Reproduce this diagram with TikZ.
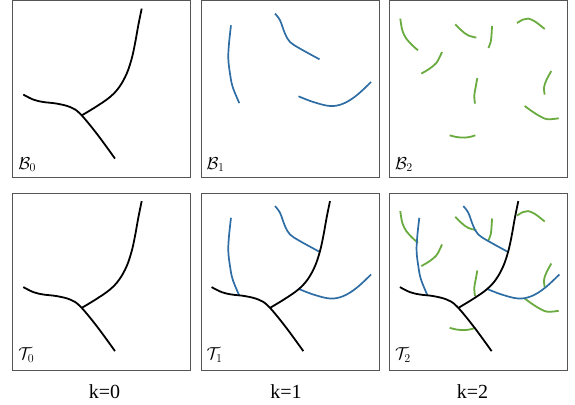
\documentclass[tikz,border=0pt]{standalone}
\usepackage{fontspec}
\setmainfont{Liberation Serif}
\definecolor{treeblue}{HTML}{2E6DA4}
\definecolor{treegreen}{HTML}{6AAB3F}
\definecolor{framegray}{HTML}{555555}
\tikzset{
  panelbox/.style={draw=framegray, line width=0.9pt},
  blk/.style={draw=black, line width=1.8pt},
  blu/.style={draw=treeblue, line width=1.7pt},
  grn/.style={draw=treegreen, line width=1.8pt},
  plabel/.style={anchor=base west, inner sep=0pt, font=\fontsize{18}{20}\selectfont},
  klabel/.style={anchor=base, inner sep=0pt, font=\fontsize{20}{22}\selectfont}
}
\newcommand{\blacktree}{%
  \draw[blk] plot[smooth, tension=0.6] coordinates {(10.6,93.8) (20.6,98.8) (30.6,101.2) (44,102.8) (57.3,106.2) (67.3,112.8) (84,132.8) (102.3,157.8)};
  \draw[blk] plot[smooth, tension=0.6] coordinates {(69.5,114.3) (84,105.5) (97.3,96.2) (106.6,86.2) (114,72.8) (119,57.8) (122.3,42.8) (125.6,24.5) (129,7.8)};
}
\newcommand{\bluetrees}{%
  \draw[blu] plot[smooth, tension=0.6] coordinates {(30,24.5) (28,42.8) (27.3,57.8) (29,72.8) (31.7,86.2) (38.3,102.3)};
  \draw[blu] plot[smooth, tension=0.6] coordinates {(74,12.8) (79,19.5) (84,32.8) (89,41.2) (99,47.8) (118.5,58.5)};
  \draw[blu] plot[smooth, tension=0.6] coordinates {(97.5,95.5) (112.3,101.2) (129,105.2) (142.3,102.8) (155.7,94.5) (170,81.2)};
}
\newcommand{\greentrees}{%
  \draw[grn] plot[smooth, tension=0.6] coordinates {(11,17.8) (13,29.5) (17,37.8) (23,44.5) (28.7,49.5)};
  \draw[grn] plot[smooth, tension=0.6] coordinates {(32,72.8) (40.4,67.8) (47,62.2) (50.4,56.2) (52.7,51.2)};
  \draw[grn] plot[smooth, tension=0.6] coordinates {(66,23.5) (72,29.5) (78.7,34.5) (87,36.8)};
  \draw[grn] plot[smooth, tension=0.6] coordinates {(102.7,25.2) (102.3,32.8) (101.4,41.2) (99,47.2)};
  \draw[grn] plot[smooth, tension=0.6] coordinates {(127.7,22.2) (133.7,18.8) (138.7,17.8) (145.4,20.5) (155.4,28.2)};
  \draw[grn] plot[smooth, tension=0.6] coordinates {(162,70.2) (157,79.5) (154.7,86.8) (155.4,93.8)};
  \draw[grn] plot[smooth, tension=0.6] coordinates {(88,77.2) (86.4,86.2) (85,94.5) (85.7,102.8)};
  \draw[grn] plot[smooth, tension=0.6] coordinates {(135.4,105.2) (143.7,111.2) (152,116.2) (158.7,118.5) (169.4,117.5)};
  \draw[grn] plot[smooth, tension=0.6] coordinates {(60.4,134.5) (67,136.2) (75.4,136.8) (82,135.8) (86,134.5)};
}
\begin{document}
\begin{tikzpicture}[x=1pt, y=-1pt]
\useasboundingbox (0,0) rectangle (575,404);
% top row
\begin{scope}[shift={(12.7,0.8)}]
  \draw[panelbox] (0,0) rectangle (178,176.5);
  \blacktree
  \node[plabel] (b0) at (5.5,168.5) {$\mathcal{B}_0$};
\end{scope}
\begin{scope}[shift={(201,0.8)}]
  \draw[panelbox] (0,0) rectangle (178,176.5);
  \bluetrees
  \node[plabel] (b1) at (5.5,168.5) {$\mathcal{B}_1$};
\end{scope}
\begin{scope}[shift={(389.3,0.8)}]
  \draw[panelbox] (0,0) rectangle (178,176.5);
  \greentrees
  \node[plabel] (b2) at (5.5,168.5) {$\mathcal{B}_2$};
\end{scope}
% bottom row
\begin{scope}[shift={(12.7,193.3)}]
  \draw[panelbox] (0,0) rectangle (178,177.4);
  \blacktree
  \node[plabel] (t0) at (5.5,166.5) {$\mathcal{T}_0$};
\end{scope}
\begin{scope}[shift={(201,193.3)}]
  \draw[panelbox] (0,0) rectangle (178,177.4);
  \bluetrees
  \blacktree
  \node[plabel] (t1) at (5.5,166.5) {$\mathcal{T}_1$};
\end{scope}
\begin{scope}[shift={(389.3,193.3)}]
  \draw[panelbox] (0,0) rectangle (178,177.4);
  \greentrees
  \bluetrees
  \blacktree
  \node[plabel] (t2) at (5.5,166.5) {$\mathcal{T}_2$};
\end{scope}
\node[klabel] (k0) at (104.5,398) {k=0};
\node[klabel] (k1) at (286,398) {k=1};
\node[klabel] (k2) at (472.5,398) {k=2};
\end{tikzpicture}
\end{document}
